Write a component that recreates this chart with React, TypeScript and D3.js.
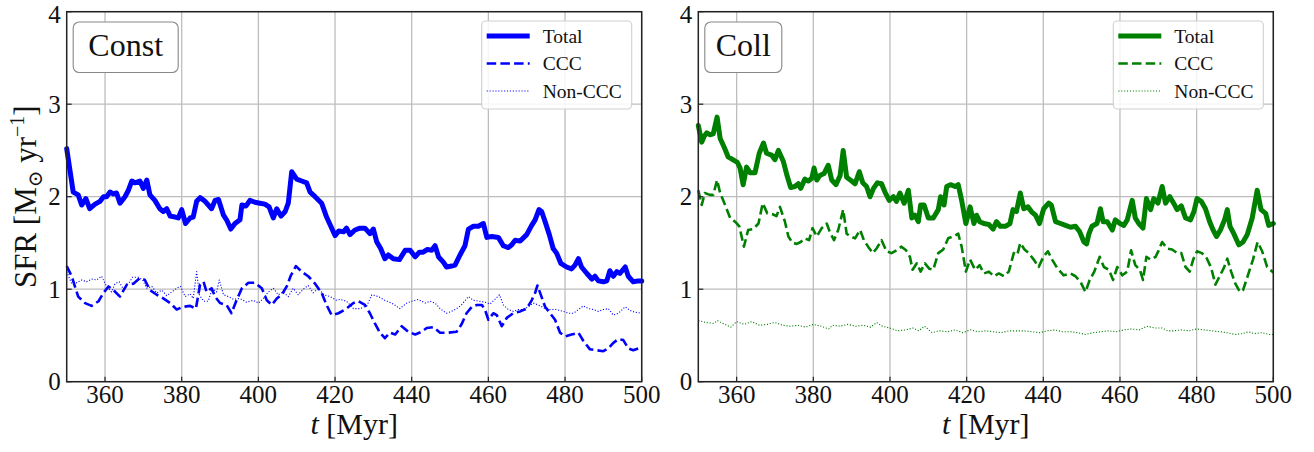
import React from "react";
import * as d3 from "d3";

const xTicks = [360, 380, 400, 420, 440, 460, 480, 500];
const yTicks = [0, 1, 2, 3, 4];

const constTotal: [number, number][] = [[350,2.52],[351.7,2.05],[353,2.02],[353.9,1.91],[355,1.98],[356,1.87],[357.4,1.92],[358.7,1.95],[359.6,2.0],[360.4,2.0],[361.3,2.05],[362.2,2.03],[363,2.04],[363.9,1.93],[365.2,2.0],[366.1,2.07],[367,2.17],[367.8,2.15],[369.1,2.17],[370,2.09],[370.9,2.18],[371.7,2.02],[373,1.96],[374.3,1.87],[375.2,1.84],[376.1,1.87],[377,1.79],[378.3,1.78],[379.1,1.77],[380,1.86],[381,1.71],[382.2,1.77],[383,1.78],[383.9,1.95],[384.8,1.99],[386.1,1.95],[387.8,1.87],[388.7,1.96],[389.6,1.97],[390.9,1.8],[391.7,1.75],[392.8,1.65],[393.9,1.71],[395.2,1.75],[395.7,1.91],[396.8,1.9],[397.8,1.96],[399.1,1.94],[400.4,1.93],[401.7,1.92],[402.8,1.89],[403.9,1.77],[404.8,1.87],[405.9,1.79],[407,1.84],[407.8,1.93],[408.7,2.27],[410,2.19],[411.3,2.17],[412.6,2.15],[413.5,2.05],[414.8,2.0],[416.5,1.93],[417.8,1.78],[418.9,1.68],[420,1.58],[421,1.63],[422.2,1.62],[423,1.66],[423.9,1.59],[425.2,1.64],[426.5,1.66],[427.8,1.66],[429.1,1.6],[430,1.65],[430.9,1.51],[431.9,1.44],[433,1.33],[433.9,1.37],[435.2,1.33],[436.8,1.32],[438.3,1.42],[439.6,1.42],[440.9,1.35],[442,1.4],[443,1.4],[444.1,1.43],[445.2,1.42],[446.1,1.47],[447,1.35],[448.3,1.29],[449.1,1.24],[450.4,1.25],[451.3,1.26],[452.6,1.37],[453.9,1.47],[454.8,1.65],[456.1,1.68],[457.4,1.68],[458.7,1.71],[459.6,1.56],[460.9,1.57],[462.6,1.56],[463.9,1.47],[465.2,1.45],[466.1,1.48],[467,1.53],[468.3,1.52],[470,1.59],[471.3,1.69],[472.2,1.75],[473.2,1.86],[473.9,1.84],[474.8,1.73],[475.9,1.59],[476.9,1.44],[477.8,1.39],[478.9,1.28],[480.4,1.24],[481.7,1.22],[482.6,1.26],[483.5,1.33],[484.3,1.24],[485.7,1.17],[487,1.11],[487.8,1.14],[488.7,1.09],[490,1.08],[490.9,1.09],[491.7,1.2],[492.6,1.14],[493.5,1.19],[494.3,1.17],[495.7,1.24],[496.5,1.14],[497.8,1.08],[499.1,1.09],[500,1.09]];

const constCCC: [number, number][] = [[350,1.25],[351.3,1.14],[353,0.92],[354.8,0.85],[356.5,0.82],[358.3,0.87],[359.6,0.96],[360.9,1.03],[362.2,0.99],[363.9,0.92],[365.7,1.05],[367.4,1.06],[369.1,1.12],[370.4,1.1],[371.7,0.99],[373.5,0.94],[375.2,0.9],[377,0.85],[378.7,0.78],[380.4,0.81],[382.2,0.82],[383.7,0.79],[384.8,1.05],[385.7,1.08],[386.5,0.97],[387.8,1.01],[388.7,0.92],[390,0.85],[391.7,0.83],[393,0.74],[394.3,0.88],[395.7,1.01],[397.4,1.07],[399.1,1.07],[400.9,1.01],[402.2,0.88],[403.5,0.83],[404.8,0.9],[406.1,0.94],[407.4,1.03],[408.5,1.15],[409.8,1.25],[411.3,1.19],[413,1.14],[414.8,1.06],[416.5,0.96],[417.8,0.83],[419.1,0.72],[420.9,0.74],[423,0.79],[424.8,0.85],[426.1,0.87],[427.8,0.83],[429.1,0.74],[430.4,0.63],[431.7,0.53],[433,0.47],[434.3,0.53],[435.7,0.51],[437.4,0.6],[439.1,0.54],[440.9,0.51],[442.6,0.54],[443.9,0.58],[445.7,0.59],[447.4,0.53],[449.6,0.53],[451.7,0.54],[453,0.62],[454.3,0.74],[455.7,0.81],[457,0.83],[458.3,0.83],[459.1,0.78],[460,0.67],[461.3,0.74],[462.2,0.72],[463.5,0.6],[464.8,0.69],[466.5,0.74],[468.3,0.76],[470,0.79],[471.3,0.88],[472.2,0.96],[472.8,1.04],[473.5,0.96],[474.8,0.81],[476.1,0.74],[477.4,0.67],[478.7,0.53],[480,0.49],[481.7,0.51],[483.5,0.53],[484.8,0.44],[486.5,0.35],[488.3,0.34],[490,0.33],[491.3,0.36],[492.6,0.42],[493.9,0.46],[495.2,0.45],[496.5,0.36],[497.8,0.34],[499.1,0.36],[500,0.35]];

const constNon: [number, number][] = [[350,1.19],[351.3,1.06],[352.6,1.07],[353.9,1.1],[355.2,1.08],[356.5,1.11],[357.8,1.1],[359.1,1.14],[360.4,1.03],[361.7,0.97],[362.6,1.06],[363.7,1.08],[364.8,1.0],[366.1,1.06],[367.2,1.13],[368.7,1.13],[369.8,1.1],[370.9,1.01],[372.2,1.03],[373.5,0.96],[374.8,0.99],[376.1,0.93],[377.4,0.97],[378.7,1.01],[379.7,1.03],[380.9,0.92],[382.2,0.95],[383,0.9],[383.9,1.19],[384.6,0.94],[385.7,0.87],[386.9,0.87],[388,1.01],[389.1,0.97],[389.8,1.1],[390.9,0.94],[392.2,0.92],[393.5,0.89],[395.2,0.9],[396.9,0.86],[398.7,0.88],[400,0.85],[401.3,0.9],[402.6,0.97],[403.9,1.01],[405.2,0.94],[406.5,0.97],[407.8,0.92],[409.1,1.01],[410.4,0.94],[411.7,1.0],[413,1.04],[414.3,0.96],[415.7,1.01],[417,0.94],[418.7,0.92],[420.4,0.88],[421.3,0.89],[423,0.87],[424.8,0.79],[426.5,0.79],[428.3,0.82],[429.6,0.94],[431.3,0.92],[433,0.88],[435.2,0.84],[436.9,0.79],[438.7,0.85],[440,0.87],[441.7,0.89],[443.5,0.85],[444.8,0.87],[446.1,0.85],[447.4,0.79],[449.1,0.74],[450.4,0.76],[451.7,0.79],[453,0.83],[454.8,0.92],[456.1,0.88],[457.7,0.87],[459.1,0.86],[460.4,0.84],[461.7,0.89],[462.9,0.94],[463.9,0.83],[465.2,0.78],[466.5,0.76],[467.8,0.78],[469.1,0.78],[470.4,0.81],[471.7,0.85],[473,0.83],[474.8,0.79],[476.1,0.78],[477.8,0.78],[479.6,0.76],[480.9,0.74],[482.2,0.74],[483.5,0.78],[484.8,0.82],[486.1,0.79],[487.4,0.78],[488.7,0.76],[490,0.78],[491.3,0.79],[492.6,0.72],[493.9,0.74],[495.7,0.81],[497,0.77],[498.3,0.75],[500,0.74]];

const collTotal: [number, number][] = [[350,2.77],[350.9,2.59],[351.5,2.65],[352.2,2.69],[353,2.67],[353.9,2.68],[354.9,2.86],[355.7,2.63],[356.7,2.54],[357.8,2.43],[359,2.4],[360.2,2.37],[360.9,2.31],[361.7,2.13],[362.6,2.32],[363.5,2.26],[364.8,2.26],[365.9,2.47],[367,2.58],[367.8,2.47],[369.1,2.45],[370,2.4],[370.9,2.5],[372.2,2.38],[373.2,2.22],[374.1,2.1],[375.2,2.11],[376.1,2.14],[376.7,2.09],[377.8,2.19],[378.7,2.17],[379.6,2.2],[380.2,2.31],[380.9,2.18],[381.7,2.23],[382.8,2.25],[383.9,2.34],[384.8,2.18],[385.9,2.13],[387,2.23],[387.8,2.5],[388.7,2.21],[390,2.17],[390.9,2.14],[392,2.27],[392.9,2.15],[393.9,2.11],[394.8,2.0],[395.7,2.09],[396.7,2.15],[397.8,2.14],[398.7,2.05],[399.8,1.96],[400.9,2.0],[401.7,1.95],[402.6,2.04],[403.7,1.93],[404.8,2.07],[405.7,1.77],[406.5,1.8],[407.4,1.73],[408,1.91],[408.9,1.91],[410,1.77],[411.3,1.77],[412.6,1.86],[413.2,2.0],[414.1,1.91],[414.8,2.11],[415.8,2.13],[417,2.11],[417.8,2.13],[418.7,1.96],[419.8,1.71],[420.9,1.89],[421.9,1.71],[422.6,1.8],[423.4,1.73],[424.5,1.71],[425.8,1.7],[426.9,1.65],[427.8,1.73],[428.8,1.68],[430.1,1.68],[431.3,1.71],[432.1,1.86],[433,1.84],[434,2.04],[434.9,1.87],[436,1.89],[437.1,1.83],[438,1.8],[439,1.71],[440.1,1.87],[441.4,1.93],[442.1,1.91],[443.2,1.73],[444.5,1.71],[445.8,1.69],[447.1,1.67],[448.4,1.68],[449.5,1.62],[450.6,1.51],[451.3,1.49],[451.9,1.6],[452.7,1.68],[454,1.71],[454.9,1.87],[455.6,1.73],[456.7,1.73],[458,1.64],[458.8,1.75],[460,1.71],[461,1.69],[461.9,1.75],[463.2,1.96],[464,1.77],[464.9,1.71],[466,1.66],[466.9,1.98],[468,1.86],[468.8,1.98],[469.9,1.93],[471,2.11],[471.9,1.93],[473,2.0],[474,1.93],[474.9,1.86],[476,1.9],[477.1,1.77],[478.4,1.75],[479.3,1.84],[480.1,1.98],[481.2,1.95],[482.3,1.87],[483.4,1.73],[484.3,1.64],[485.2,1.57],[486.2,1.64],[487.3,1.75],[488,1.86],[488.7,1.68],[489.7,1.6],[491,1.48],[492.1,1.51],[493.2,1.59],[494.5,1.77],[495.8,2.07],[496.8,1.86],[498,1.82],[498.8,1.69],[500,1.71]];

const collCCC: [number, number][] = [[350,2.07],[350.9,1.91],[351.7,2.04],[353,2.02],[353.9,2.02],[354.9,2.18],[355.7,2.04],[357,1.91],[358.3,1.77],[359.6,1.73],[360.7,1.68],[361.9,1.46],[363,1.64],[364.3,1.65],[365.7,1.71],[366.8,1.93],[368,1.82],[369.4,1.81],[370.4,1.79],[371.3,1.89],[372.6,1.73],[373.5,1.57],[374.6,1.5],[375.7,1.49],[376.7,1.51],[377.8,1.55],[378.9,1.53],[379.8,1.66],[380.9,1.57],[382.2,1.66],[383.5,1.71],[384.3,1.62],[385.4,1.53],[386.5,1.64],[387.8,1.86],[388.7,1.6],[389.7,1.57],[390.9,1.55],[392.2,1.64],[393.2,1.53],[394.3,1.46],[395.5,1.39],[396.5,1.44],[397.8,1.53],[399.1,1.41],[400.4,1.39],[401.7,1.42],[403,1.46],[404.2,1.42],[405.2,1.35],[405.9,1.21],[407,1.28],[408,1.19],[409.1,1.28],[410.3,1.22],[411.3,1.21],[412.6,1.39],[413.9,1.43],[415.2,1.55],[416.5,1.57],[417.8,1.6],[418.7,1.46],[419.8,1.19],[420.9,1.32],[422.2,1.21],[423.4,1.26],[424.5,1.17],[425.8,1.19],[427.1,1.14],[428.4,1.17],[429.7,1.14],[431,1.19],[432.3,1.39],[433.2,1.37],[434,1.5],[435.1,1.43],[436.2,1.39],[437.5,1.32],[438.8,1.24],[440,1.35],[441.2,1.41],[442.3,1.32],[443.6,1.23],[445.3,1.15],[447.1,1.17],[448.4,1.14],[449.7,1.08],[451,0.97],[452.1,1.1],[453.3,1.19],[454.7,1.35],[455.8,1.24],[457.1,1.21],[458.2,1.1],[459.3,1.24],[460.6,1.15],[461.9,1.19],[462.9,1.42],[464,1.26],[465.2,1.21],[466,1.1],[466.9,1.35],[468,1.32],[469.3,1.35],[470.1,1.42],[471,1.51],[472.3,1.44],[473.6,1.43],[474.9,1.39],[476,1.39],[477.1,1.24],[478.2,1.19],[479.1,1.32],[480.1,1.41],[481.4,1.39],[482.7,1.33],[483.8,1.23],[484.9,1.05],[486,1.14],[487.1,1.23],[488,1.33],[489,1.19],[490.1,1.06],[491.3,0.97],[492.1,0.99],[493.3,1.14],[494.7,1.32],[495.9,1.51],[497.1,1.41],[498.4,1.24],[500,1.18]];

const collNon: [number, number][] = [[350,0.66],[352,0.64],[354,0.63],[355,0.66],[357,0.62],[358.5,0.59],[360,0.65],[362,0.62],[364,0.65],[366,0.61],[368,0.62],[370,0.64],[372,0.61],[374,0.6],[376,0.61],[378,0.59],[380,0.62],[382,0.6],[384,0.57],[385,0.61],[387,0.6],[389,0.62],[391,0.6],[393,0.61],[395,0.59],[396.5,0.64],[398,0.6],[400,0.58],[402,0.55],[404,0.56],[406,0.58],[407.5,0.55],[409,0.6],[411,0.53],[413,0.55],[415,0.54],[417,0.56],[419,0.53],[421,0.56],[423,0.54],[425,0.55],[427,0.54],[429,0.53],[431,0.55],[433,0.55],[435,0.55],[437,0.54],[439,0.53],[441,0.55],[443,0.56],[445,0.54],[447,0.54],[449,0.53],[451,0.51],[453,0.53],[455,0.54],[457,0.55],[459,0.54],[461,0.56],[463,0.57],[465,0.56],[467,0.6],[469,0.58],[471,0.58],[472.5,0.55],[474,0.55],[476,0.56],[478,0.55],[480,0.57],[482,0.56],[484,0.55],[486,0.54],[488,0.53],[490,0.51],[492,0.52],[493.5,0.54],[495,0.52],[497,0.53],[499,0.51],[500,0.51]];

const seriesNames = ["Total", "CCC", "Non-CCC"];

const FONT = "'Liberation Serif', 'DejaVu Serif', serif";
const TOP = 11.7;
const BOTTOM = 381.7;
const PW = 575;

type PanelProps = {
  x0: number;
  color: string;
  label: string;
  boxW: number;
  data: [number, number][][];
};

const styles = [
  { w: 5, dash: undefined as string | undefined },
  { w: 2.6, dash: "9.5 4.2" },
  { w: 1.1, dash: "1.1 1.8" },
];

function Panel({ x0, color, label, boxW, data }: PanelProps) {
  const x = d3.scaleLinear().domain([350, 500]).range([x0, x0 + PW]);
  const y = d3.scaleLinear().domain([0, 4]).range([BOTTOM, TOP]);
  const line = d3
    .line<[number, number]>()
    .x((d) => x(d[0]))
    .y((d) => y(d[1]));
  const lx = x0 + PW - 160;
  return (
    <g>
      {xTicks.map((t) => (
        <line key={"gx" + t} x1={x(t)} x2={x(t)} y1={TOP} y2={BOTTOM} stroke="#bdbdbd" strokeWidth={1.3} />
      ))}
      {yTicks.map((t) => (
        <line key={"gy" + t} x1={x0} x2={x0 + PW} y1={y(t)} y2={y(t)} stroke="#bdbdbd" strokeWidth={1.3} />
      ))}
      {data.map((d, i) => (
        <path
          key={"s" + i}
          d={line(d) || ""}
          fill="none"
          stroke={color}
          strokeWidth={styles[i].w}
          strokeDasharray={styles[i].dash}
          strokeLinejoin="round"
          strokeLinecap={i === 0 ? "round" : "butt"}
        />
      ))}
      {xTicks.map((t) => (
        <g key={"tx" + t}>
          <line x1={x(t)} x2={x(t)} y1={BOTTOM} y2={BOTTOM - 5} stroke="#222" strokeWidth={1.2} />
          <text x={x(t)} y={403} textAnchor="middle" fontFamily={FONT} fontSize={25} fill="#111">
            {t}
          </text>
        </g>
      ))}
      {yTicks.map((t) => (
        <g key={"ty" + t}>
          <line x1={x0} x2={x0 + 5} y1={y(t)} y2={y(t)} stroke="#222" strokeWidth={1.2} />
          <text
            x={x0 - 6}
            y={Math.max(y(t) + 8.5, 22.5)}
            textAnchor="end"
            fontFamily={FONT}
            fontSize={25}
            fill="#111"
          >
            {t}
          </text>
        </g>
      ))}
      <rect x={x0} y={TOP} width={PW} height={BOTTOM - TOP} fill="none" stroke="#222" strokeWidth={1.5} />
      <rect x={x0 + 6.5} y={22} width={boxW} height={50.5} rx={6} fill="white" stroke="#888" strokeWidth={1.1} />
      <text x={x0 + 6.5 + boxW / 2} y={56} textAnchor="middle" fontFamily={FONT} fontSize={32} fill="#111">
        {label}
      </text>
      <rect x={lx} y={21} width={150} height={88} rx={4} fill="white" fillOpacity={0.85} stroke="#d0d0d0" strokeWidth={1.1} />
      {seriesNames.map((n, i) => {
        const ry = 36 + i * 27.5;
        return (
          <g key={"lg" + i}>
            <line
              x1={lx + 5}
              x2={lx + 48}
              y1={ry}
              y2={ry}
              stroke={color}
              strokeWidth={styles[i].w}
              strokeDasharray={styles[i].dash}
            />
            <text x={lx + 61} y={ry + 6.5} fontFamily={FONT} fontSize={19.5} fill="#111">
              {n}
            </text>
          </g>
        );
      })}
      <text x={x0 + PW / 2} y={434} textAnchor="middle" fontFamily={FONT} fontSize={30} fill="#111">
        <tspan fontStyle="italic">t</tspan>
        <tspan> [Myr]</tspan>
      </text>
    </g>
  );
}

export default function App() {
  return (
    <svg
      width={1314}
      height={452}
      style={{ position: "absolute", left: 0, top: 0, background: "white" }}
    >
      <rect x={0} y={0} width={1314} height={452} fill="white" />
      <Panel x0={66.7} color="#0000ff" label="Const" boxW={105} data={[constTotal, constCCC, constNon]} />
      <Panel x0={698.3} color="#008000" label="Coll" boxW={77} data={[collTotal, collCCC, collNon]} />
      <text
        transform={`translate(36,196.7) rotate(-90)`}
        textAnchor="middle"
        fontFamily={FONT}
        fontSize={31}
        fill="#111"
      >
        <tspan>SFR [M</tspan>
        <tspan fontSize={20} dy={6}>⊙</tspan>
        <tspan dy={-6}> yr</tspan>
        <tspan fontSize={20} dy={-12}>−1</tspan>
        <tspan dy={12}>]</tspan>
      </text>
    </svg>
  );
}
